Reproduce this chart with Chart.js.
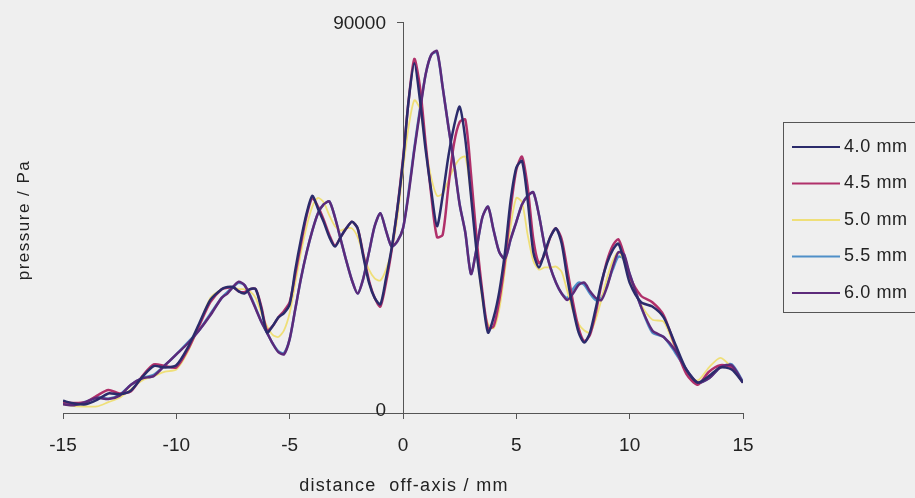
<!DOCTYPE html>
<html>
<head>
<meta charset="utf-8">
<script src="https://cdn.jsdelivr.net/npm/chart.js@4"></script>
<style>
  html, body { margin: 0; padding: 0; background: #efefef; }
  #wrap { width: 915px; height: 498px; position: relative; }
</style>
</head>
<body>
<div id="wrap"><canvas id="grafica"></canvas></div>
<script>
// distancia fuera del eje (mm)
const distancia = [-15,-14.5,-14,-13.5,-13,-12.5,-12,-11.5,-11,-10.5,-10,-9.5,-9,-8.5,-8,
  -7.75,-7.5,-7.25,-7,-6.75,-6.5,-6.25,-6,-5.75,-5.5,-5.25,-5,-4.75,-4.5,-4.25,-4,
  -3.75,-3.5,-3.25,-3,-2.75,-2.5,-2.25,-2,-1.75,-1.5,-1.25,-1,-0.75,-0.5,-0.25,0,
  0.25,0.5,0.75,1,1.25,1.5,1.75,2,2.25,2.5,2.75,3,3.25,3.5,3.75,4,
  4.25,4.5,4.75,5,5.25,5.5,5.75,6,6.25,6.5,6.75,7,7.25,7.5,7.75,8,
  8.25,8.5,8.75,9,9.25,9.5,9.75,10,10.5,11,11.5,12,12.5,13,13.5,14,14.5,15];

// presion (Pa) para cada separacion
const p40 = [2800,2200,2000,3000,4500,4300,5200,8300,10800,10500,11000,15000,20500,26000,28500,
  29000,29000,28000,27500,28500,28500,24000,18500,20000,22000,23000,25000,33000,40000,46000,50000,
  47000,44000,40500,38300,40500,42500,44000,42500,36000,30000,26500,25000,31000,38000,47000,58000,
  72000,80500,72000,60500,51000,43000,50000,59000,66000,70500,63000,50000,37000,27000,18500,22000,
  28000,37000,49000,56500,58000,49000,37000,33500,37000,40500,42500,39000,31000,24000,18500,16200,
  18500,24000,30000,34500,37500,39000,35000,30000,25500,24500,22000,16000,10000,7000,8500,10500,10000,7000];

const p45 = [2500,2300,2500,4000,5300,4500,5000,8500,11200,10800,10500,14500,20000,25500,28500,
  28800,29000,28000,27800,28500,28500,24500,19000,20000,22000,23500,25500,32000,39000,45500,49500,
  47500,44500,41000,38500,40500,42500,44000,42500,36500,30500,26500,24500,30000,37500,47000,58500,
  72000,81500,75000,62000,50000,40500,41000,52000,62000,67000,67500,55000,40000,28000,19500,20000,
  26000,35000,47000,56000,59000,52000,40000,34500,36500,40500,42500,40000,33000,25500,19500,16500,
  18000,23000,29500,35000,38500,40000,36500,31500,27000,25500,22500,15500,9000,6500,9500,11000,10500,7000];

const p50 = [2000,1600,1500,1500,2500,3500,5500,7500,8500,9500,10000,14000,20000,26500,28500,
  29000,29000,28500,28500,28000,26500,23000,20000,18000,17500,19000,23000,30000,37000,43000,47500,
  49500,48500,45500,43000,42000,42500,42500,40500,36500,33000,31000,30500,33000,37500,45000,56000,
  66000,72000,70000,61000,54000,50000,50500,53500,56500,58500,59000,50000,38000,26000,20500,19500,
  24000,33000,43000,49500,48500,41000,35000,33000,33500,33500,33700,32500,28000,23500,20500,19000,
  18500,21500,26000,31000,35000,37000,35000,31000,25000,21500,21000,15000,9500,7500,10500,12700,10500,7000];

const p55 = [2200,1800,2600,3600,3300,4200,6500,8000,8800,11000,13500,16200,19000,22800,26500,
  27800,29000,30000,29500,27200,24200,21000,18500,16000,14200,13800,17000,24000,31000,37000,42000,
  46000,48000,48700,45000,40000,35000,30500,27500,31000,37000,43000,46000,42000,38300,39500,42500,
  51000,61000,70000,78000,82500,83000,75000,66000,57500,48000,41500,32000,38000,45000,47500,42000,
  37000,35500,40000,44000,48000,50000,50800,45500,38500,33500,30000,27500,26500,28500,30000,29500,
  27500,26000,26500,29500,33000,36000,35500,32000,24500,18500,17500,14000,10000,7000,8000,10500,11200,7200];

const p60 = [2000,1800,2500,3500,3200,4000,6500,8000,8500,11000,13500,16000,19000,22500,26500,
  27500,29000,30200,29500,27000,24000,21000,18500,16000,14000,13500,17000,24000,31000,37000,42000,
  46000,48000,48700,45000,40000,35000,30500,27500,31000,37000,43000,46000,42000,38300,39500,42500,
  50500,60500,69500,78000,82500,83300,75000,66000,57500,48000,41500,32000,38000,45000,47500,42000,
  37000,35500,40000,44000,48000,50000,50800,45500,38500,33500,30000,27500,26000,27500,29500,30000,
  28000,26500,26000,29000,33500,37000,36500,32000,24500,19000,17500,14500,10000,7000,8000,10500,11000,7000];

const etiquetas = ['4.0 mm','4.5 mm','5.0 mm','5.5 mm','6.0 mm'];
const colores = ['#2b2b6b','#b0306a','#efdf78','#4f8fc8','#5c2a7a'];
const series = [p40, p45, p50, p55, p60];
const orden = [0, 2, 2, 3, 1];
const ticksY = [0, 90000];

const fuente = '"Liberation Sans", Arial, sans-serif';

const datasets = series.map((valores, i) => ({
  label: etiquetas[i],
  data: valores.map((v, j) => ({ x: distancia[j], y: v })),
  borderColor: colores[i],
  borderWidth: i === 2 ? 1.8 : 2.5,
  pointRadius: 0,
  tension: 0.25,
  fill: false,
  order: orden[i]
}));

// leyenda con recuadro, etiquetas del eje y y titulos
const extras = {
  id: 'extras',
  afterDraw(chart) {
    const c = chart.ctx;
    const sy = chart.scales.y;
    const x0 = chart.scales.x.getPixelForValue(0);
    c.save();

    // marcas y numeros del eje y
    c.strokeStyle = '#555';
    c.lineWidth = 1;
    c.fillStyle = '#222';
    c.font = '19px ' + fuente;
    c.textAlign = 'right';
    c.textBaseline = 'middle';
    ticksY.forEach(v => {
      const y = Math.round(sy.getPixelForValue(v)) + 0.5;
      c.beginPath();
      c.moveTo(x0 - 6, y);
      c.lineTo(x0, y);
      c.stroke();
      c.fillText(String(v), x0 - 17, v === 0 ? y - 3 : y + 1);
    });

    // leyenda
    c.strokeStyle = '#555';
    c.strokeRect(783.5, 122.5, 150, 190);
    c.font = '18px ' + fuente;
    c.letterSpacing = '0.6px';
    c.textAlign = 'left';
    etiquetas.forEach((t, i) => {
      const y = 147 + i * 36.5;
      c.strokeStyle = colores[i];
      c.lineWidth = 2;
      c.beginPath();
      c.moveTo(792, y);
      c.lineTo(840, y);
      c.stroke();
      c.fillStyle = '#222';
      c.fillText(t, 844, y);
    });

    // titulo eje x
    c.font = '18px ' + fuente;
    c.letterSpacing = '1.3px';
    c.textAlign = 'center';
    c.fillText('distance  off-axis / mm', 404, 486);

    // titulo eje y
    c.translate(24, 220);
    c.rotate(-Math.PI / 2);
    c.font = '17px ' + fuente;
    c.letterSpacing = '1.5px';
    c.fillText('pressure / Pa', 0, 0);
    c.restore();
  }
};

new Chart(document.getElementById('grafica'), {
  type: 'line',
  data: { datasets },
  options: {
    responsive: true,
    maintainAspectRatio: false,
    animation: false,
    devicePixelRatio: 1,
    layout: { padding: { left: 63, right: 172, top: 22, bottom: 0 } },
    plugins: { legend: { display: false }, tooltip: { enabled: false } },
    scales: {
      x: {
        type: 'linear',
        position: 'bottom',
        min: -15,
        max: 15,
        ticks: { stepSize: 5, padding: 15, color: '#222', font: { family: fuente, size: 19 } },
        grid: { drawOnChartArea: false, tickLength: 6, color: '#555' },
        border: { color: '#555', width: 1 },
        afterFit(scale) { scale.height = 85; }
      },
      y: {
        type: 'linear',
        position: { x: 0 },
        min: 0,
        max: 90000,
        ticks: { display: false },
        grid: { display: false },
        border: { color: '#555', width: 1 }
      }
    }
  },
  plugins: [extras]
});
</script>
</body>
</html>
